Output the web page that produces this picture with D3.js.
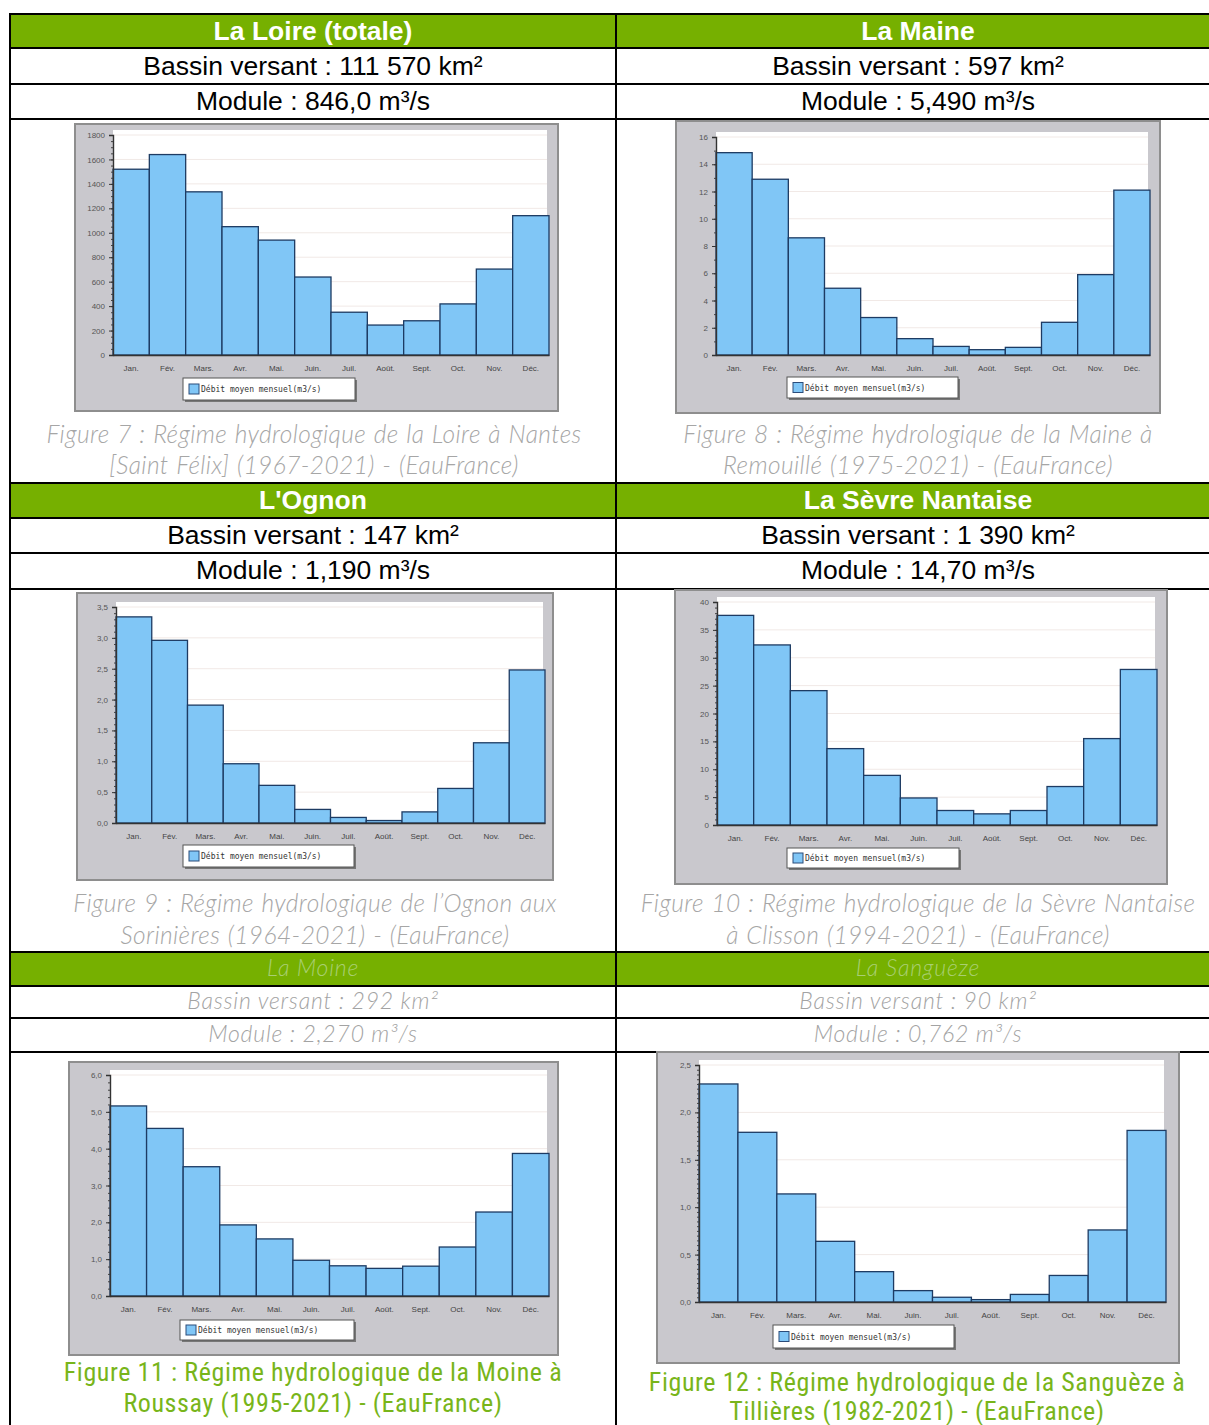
<!DOCTYPE html>
<html>
<head>
<meta charset="utf-8">
<script src="https://cdn.jsdelivr.net/npm/d3@7"></script>
<style>
  body { margin: 0; background: #fff; }
  svg text { font-family: "Liberation Sans", Arial, sans-serif; }
</style>
</head>
<body>
<div id="chart"></div>
<script>
// --- data ---
const months = ['Jan.', 'Fév.', 'Mars.', 'Avr.', 'Mai.', 'Juin.', 'Juil.', 'Août.', 'Sept.', 'Oct.', 'Nov.', 'Déc.'];
const rivers = ['La Loire (totale)', 'La Maine', "L'Ognon", 'La Sèvre Nantaise', 'La Moine', 'La Sanguèze'];
const bassins = ['Bassin versant : 111 570 km²', 'Bassin versant : 597 km²', 'Bassin versant : 147 km²',
  'Bassin versant : 1 390 km²', 'Bassin versant : 292 km²', 'Bassin versant : 90 km²'];
const modules = ['Module : 846,0 m³/s', 'Module : 5,490 m³/s', 'Module : 1,190 m³/s',
  'Module : 14,70 m³/s', 'Module : 2,270 m³/s', 'Module : 0,762 m³/s'];
const captions = [
  ['Figure 7 : Régime hydrologique de la Loire à Nantes', '[Saint Félix] (1967-2021) - (EauFrance)'],
  ['Figure 8 : Régime hydrologique de la Maine à', 'Remouillé (1975-2021) - (EauFrance)'],
  ['Figure 9 : Régime hydrologique de l’Ognon aux', 'Sorinières (1964-2021) - (EauFrance)'],
  ['Figure 10 : Régime hydrologique de la Sèvre Nantaise', 'à Clisson (1994-2021) - (EauFrance)'],
  ['Figure 11 : Régime hydrologique de la Moine à', 'Roussay (1995-2021) - (EauFrance)'],
  ['Figure 12 : Régime hydrologique de la Sanguèze à', 'Tillières (1982-2021) - (EauFrance)']
];
const legendLabel = 'Débit moyen mensuel(m3/s)';

const loireFlow = [1520, 1640, 1335, 1050, 940, 638, 350, 245, 280, 418, 703, 1140];
const maineFlow = [14.85, 12.9, 8.6, 4.9, 2.75, 1.2, 0.63, 0.39, 0.56, 2.4, 5.9, 12.1];
const ognonFlow = [3.34, 2.96, 1.91, 0.96, 0.61, 0.22, 0.09, 0.04, 0.18, 0.56, 1.3, 2.48];
const sevreFlow = [37.6, 32.3, 24.1, 13.7, 8.9, 4.85, 2.6, 2.0, 2.6, 6.9, 15.5, 27.9];
const moineFlow = [5.16, 4.55, 3.51, 1.93, 1.55, 0.97, 0.82, 0.75, 0.81, 1.33, 2.28, 3.87];
const sanguezeFlow = [2.3, 1.79, 1.14, 0.64, 0.32, 0.12, 0.05, 0.025, 0.08, 0.28, 0.76, 1.81];

const loireTicks = [0, 200, 400, 600, 800, 1000, 1200, 1400, 1600, 1800];
const maineTicks = [0, 2, 4, 6, 8, 10, 12, 14, 16];
const ognonTicks = [0, 0.5, 1, 1.5, 2, 2.5, 3, 3.5];
const sevreTicks = [0, 5, 10, 15, 20, 25, 30, 35, 40];
const moineTicks = [0, 1, 2, 3, 4, 5, 6];
const sanguezeTicks = [0, 0.5, 1, 1.5, 2, 2.5];

// --- layout ---
const W = 1209, H = 1425;
const green = '#76b000';
const colX = [313, 918];
const blockTop = [14, 483, 952];
const rowLines = [14, 48, 84, 119, 483, 518, 553, 589, 952, 986, 1018, 1052];

const comma = d => d3.format('.1f')(d).replace('.', ',');
const plain = d => String(d);

const charts = [
  { values: loireFlow, ticks: loireTicks, fmt: plain, minor: 4,
    frame: [75, 124, 558, 411], plot: [113, 549, 135, 355], legend: [183, 378, 172, 22] },
  { values: maineFlow, ticks: maineTicks, fmt: plain, minor: 2,
    frame: [676, 121, 1160, 413], plot: [716, 1150, 137, 355], legend: [787, 377, 171, 21] },
  { values: ognonFlow, ticks: ognonTicks, fmt: comma, minor: 5,
    frame: [77, 593, 553, 880], plot: [116, 545, 607, 823], legend: [183, 845, 171, 22] },
  { values: sevreFlow, ticks: sevreTicks, fmt: plain, minor: 5,
    frame: [675, 590, 1167, 884], plot: [717, 1157, 602, 825], legend: [787, 848, 172, 20] },
  { values: moineFlow, ticks: moineTicks, fmt: comma, minor: 5,
    frame: [69, 1062, 558, 1355], plot: [110, 549, 1075, 1296], legend: [180, 1320, 174, 20] },
  { values: sanguezeFlow, ticks: sanguezeTicks, fmt: comma, minor: 10,
    frame: [657, 1052, 1179, 1363], plot: [699, 1166, 1065, 1302], legend: [773, 1325, 181, 23] }
];
const captionY = [[435, 466], [435, 466], [904, 936], [904, 936], [1373, 1404], [1383, 1412]];
const captionX = [314, 918, 315, 918, 313, 917];

const svg = d3.select('#chart').append('svg')
  .attr('width', W).attr('height', H)
  .style('display', 'block');

svg.append('rect').attr('width', W).attr('height', H).attr('fill', '#fff');

// green header bands
svg.selectAll('rect.head').data(blockTop).enter().append('rect')
  .attr('class', 'head')
  .attr('x', 10).attr('y', d => d)
  .attr('width', W - 10).attr('height', (d, i) => i === 2 ? 34 : 35)
  .attr('fill', green);

// cell texts
rivers.forEach((name, i) => {
  const col = i % 2, block = Math.floor(i / 2);
  const top = blockTop[block];
  const faded = block === 2;
  const cx = colX[col];
  const head = svg.append('text').attr('x', cx).attr('text-anchor', 'middle').text(name);
  const r1 = svg.append('text').attr('x', cx).attr('text-anchor', 'middle').text(bassins[i]);
  const r2 = svg.append('text').attr('x', cx).attr('text-anchor', 'middle').text(modules[i]);
  if (!faded) {
    head.attr('y', top + 26).attr('fill', '#fff').attr('font-weight', 'bold').attr('font-size', 26.5);
    r1.attr('y', top + 61).attr('font-size', 26.5).attr('fill', '#000');
    r2.attr('y', top + 96).attr('font-size', 26.5).attr('fill', '#000');
  } else {
    [head, r1, r2].forEach(t => t
      .style('font-family', 'Lato, "Open Sans", sans-serif')
      .style('letter-spacing', '0.8px')
      .attr('font-style', 'italic').attr('font-weight', 300).attr('font-size', 23));
    head.attr('y', top + 24).attr('fill', '#a9cf72');
    r1.attr('y', top + 57).attr('fill', '#a3a3a3');
    r2.attr('y', top + 90).attr('fill', '#a3a3a3');
  }
});

// table lines
svg.selectAll('line.row').data(rowLines).enter().append('line')
  .attr('x1', 9).attr('x2', W).attr('y1', d => d).attr('y2', d => d)
  .attr('stroke', '#000').attr('stroke-width', 2);
svg.selectAll('line.col').data([10, 616]).enter().append('line')
  .attr('x1', d => d).attr('x2', d => d).attr('y1', 13).attr('y2', H)
  .attr('stroke', '#000').attr('stroke-width', 2);

function drawChart(c) {
  const g = svg.append('g');
  const [fx0, fy0, fx1, fy1] = c.frame;
  const [px0, px1, pTop, pBot] = c.plot;
  const yMax = c.ticks[c.ticks.length - 1];

  const x = d3.scaleBand().domain(months).range([px0, px1]).padding(0);
  const y = d3.scaleLinear().domain([0, yMax]).range([pBot, pTop]);

  g.append('rect')
    .attr('x', fx0).attr('y', fy0).attr('width', fx1 - fx0).attr('height', fy1 - fy0)
    .attr('fill', '#c9c8cd').attr('stroke', '#8e8e8e').attr('stroke-width', 2);
  g.append('rect')
    .attr('x', px0).attr('y', pTop - 5).attr('width', px1 - px0 - 2).attr('height', pBot - pTop + 5)
    .attr('fill', '#fff');

  // faint gridlines
  g.selectAll('line.grid').data(c.ticks.slice(1)).enter().append('line')
    .attr('x1', px0).attr('x2', px1 - 2)
    .attr('y1', d => y(d)).attr('y2', d => y(d))
    .attr('stroke', '#f1e9e6').attr('stroke-width', 1);

  g.selectAll('rect.bar').data(c.values).enter().append('rect')
    .attr('x', (d, i) => x(months[i]))
    .attr('y', d => y(d))
    .attr('width', x.bandwidth())
    .attr('height', d => pBot - y(d))
    .attr('fill', '#80c6f6')
    .attr('stroke', '#1d3b63').attr('stroke-width', 1.3);

  // axes
  const step = c.ticks[1] - c.ticks[0];
  g.append('g').attr('transform', `translate(${px0},0)`)
    .call(d3.axisLeft(y).tickValues(d3.range(0, yMax + 1e-9, step / c.minor)).tickSize(2).tickFormat(''))
    .call(a => a.select('.domain').remove())
    .call(a => a.selectAll('line').attr('stroke', '#444'));
  g.append('g').attr('transform', `translate(${px0},0)`)
    .call(d3.axisLeft(y).tickValues(c.ticks).tickFormat(c.fmt).tickSize(4).tickPadding(4))
    .call(a => a.select('.domain').attr('stroke', '#333').attr('stroke-width', 1.4))
    .call(a => a.selectAll('line').attr('stroke', '#333'))
    .call(a => a.selectAll('text').attr('font-size', 8).attr('fill', '#555'));
  g.append('g').attr('transform', `translate(0,${pBot})`)
    .call(d3.axisBottom(x).tickSize(0).tickPadding(10))
    .call(a => a.select('.domain').attr('stroke', '#333').attr('stroke-width', 1.4))
    .call(a => a.selectAll('text').attr('font-size', 8).attr('fill', '#444'));

  // legend
  const [lx, ly, lw, lh] = c.legend;
  g.append('rect').attr('x', lx + 2).attr('y', ly + 2).attr('width', lw).attr('height', lh)
    .attr('fill', '#777');
  g.append('rect').attr('x', lx).attr('y', ly).attr('width', lw).attr('height', lh)
    .attr('fill', '#fff').attr('stroke', '#555');
  g.append('rect').attr('x', lx + 6).attr('y', ly + lh / 2 - 5).attr('width', 10).attr('height', 10)
    .attr('fill', '#80c6f6').attr('stroke', '#2b4c7a');
  g.append('text').attr('x', lx + 18).attr('y', ly + lh / 2 + 3)
    .style('font-family', '"DejaVu Sans Mono", monospace')
    .attr('font-size', 8).attr('fill', '#333')
    .text(legendLabel);
}

charts.forEach(drawChart);

// captions
captions.forEach((lines, i) => {
  const greenCap = i >= 4;
  lines.forEach((line, k) => {
    const t = svg.append('text')
      .attr('x', captionX[i]).attr('y', captionY[i][k] + 8)
      .attr('text-anchor', 'middle')
      .text(line);
    if (greenCap) {
      t.style('font-family', '"Liberation Sans Narrow", "Roboto Condensed", "Liberation Sans", sans-serif')
        .style('letter-spacing', '0.6px')
        .attr('font-size', 26).attr('fill', '#78b51a');
    } else {
      t.style('font-family', 'Lato, "Open Sans", sans-serif')
        .style('letter-spacing', '0.4px').style('word-spacing', '1px')
        .attr('font-style', 'italic').attr('font-weight', 300)
        .attr('font-size', 24.5).attr('fill', '#a6a6a6');
    }
  });
});
</script>
</body>
</html>
